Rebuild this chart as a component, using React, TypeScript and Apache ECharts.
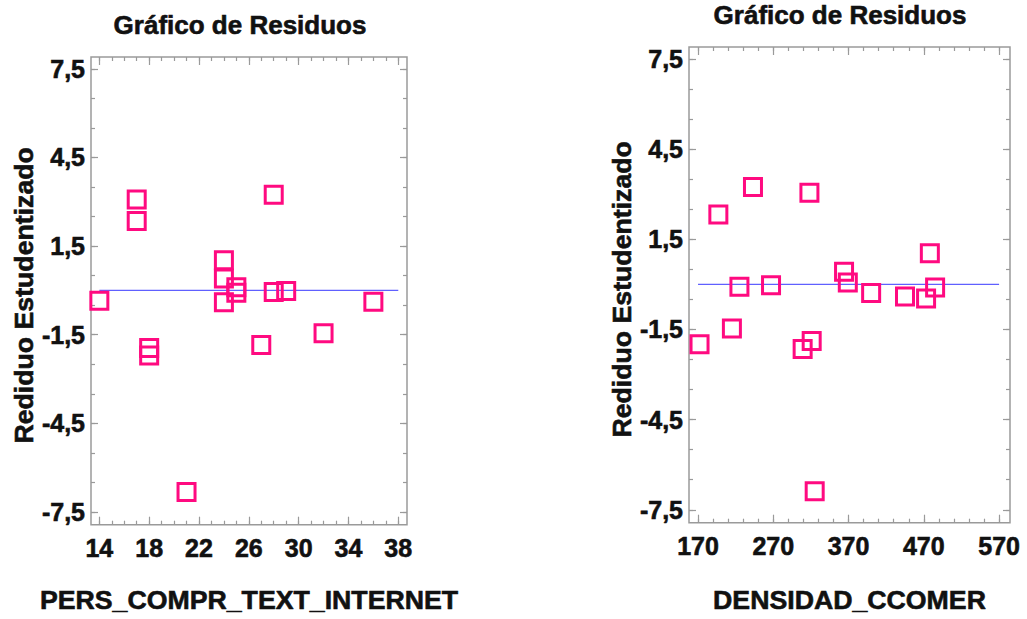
import { useEffect, useRef } from "react";
import * as echarts from "echarts";

// Texts
const TITLE = "Gráfico de Residuos";
const Y_NAME = "Rediduo Estudentizado";
const PERS_NAME = "PERS_COMPR_TEXT_INTERNET";
const DENS_NAME = "DENSIDAD_CCOMER";

// Left panel: residuals vs PERS_COMPR_TEXT_INTERNET
const persX = [14, 17, 17, 28, 24, 24, 24, 25, 25, 28, 29, 36, 18, 18, 27, 32, 21];
const persResid = [-0.35, 3.08, 2.35, 3.24, 1.02, 0.4, -0.4, 0.11, -0.08, -0.05, -0.02, -0.38, -1.95, -2.2, -1.85, -1.45, -6.82];

// Right panel: residuals vs DENSIDAD_CCOMER
const densX = [197, 243, 318, 225, 267, 364, 369, 400, 445, 473, 478, 485, 172, 215, 309, 321, 325];
const densResid = [2.33, 3.24, 3.05, -0.08, -0.03, 0.42, 0.06, -0.29, -0.4, -0.47, 1.04, -0.1, -1.99, -1.47, -2.15, -1.88, -6.88];

// Tick labels
const persXTicks = [14, 18, 22, 26, 30, 34, 38];
const densXTicks = [170, 270, 370, 470, 570];
const residTicks = [-7.5, -4.5, -1.5, 1.5, 4.5, 7.5];

const FONT = '"Liberation Sans", Arial, sans-serif';
const INK = "#111111";
const FRAME = "#9a9a9a";
const MARK = "#ff0a80";
const ZERO = "#6060ff";

// evenly spaced tick marks between two values
function steps(from: number, to: number, step: number): number[] {
  const out: number[] = [];
  for (let v = from; v <= to + 1e-9; v += step) out.push(Math.round(v * 100) / 100);
  return out;
}

type Panel = {
  grid: { left: number; top: number; width: number; height: number };
  xMin: number;
  xMax: number;
  yMin: number;
  yMax: number;
  xTicks: number[];
  xMinor: number[];
  xName: string;
  xNameGap: number;
  xLabelMargin: number;
  title: { x: number; y: number };
  xs: number[];
  ys: number[];
};

const panels: Panel[] = [
  {
    grid: { left: 91, top: 57, width: 316, height: 471 },
    xMin: 13.33,
    xMax: 38.7,
    yMin: -7.93,
    yMax: 7.9,
    xTicks: persXTicks,
    xMinor: steps(14, 38, 1),
    xName: PERS_NAME,
    xNameGap: 62,
    xLabelMargin: 11,
    title: { x: 240, y: 25 },
    xs: persX,
    ys: persResid,
  },
  {
    grid: { left: 689, top: 47, width: 321, height: 477 },
    xMin: 158,
    xMax: 584.5,
    yMin: -7.93,
    yMax: 7.9,
    xTicks: densXTicks,
    xMinor: steps(170, 570, 20),
    xName: DENS_NAME,
    xNameGap: 64,
    xLabelMargin: 11,
    title: { x: 840, y: 15 },
    xs: densX,
    ys: densResid,
  },
];

const residMinor = steps(-7.5, 7.5, 1);

function buildOption() {
  const grids: any[] = [];
  const xAxes: any[] = [];
  const yAxes: any[] = [];
  const series: any[] = [];
  const graphics: any[] = [];

  const heavy = { textBorderColor: INK, textBorderWidth: 0.6 };
  const labelStyle = { fontFamily: FONT, fontWeight: "bold", fontSize: 25, color: INK, ...heavy };
  const nameStyle = { fontFamily: FONT, fontWeight: "bold", fontSize: 26.7, color: INK, ...heavy };

  panels.forEach((p, gi) => {
    grids.push({
      ...p.grid,
      show: true,
      borderColor: FRAME,
      borderWidth: 1.5,
      backgroundColor: "transparent",
      containLabel: false,
    });

    const noLine = { show: false, onZero: false };
    const xBase = { gridIndex: gi, type: "value", min: p.xMin, max: p.xMax, splitLine: { show: false }, axisLine: noLine };
    const yBase = { gridIndex: gi, type: "value", min: p.yMin, max: p.yMax, splitLine: { show: false }, axisLine: noLine };
    const tick = (values: number[], length: number) => ({
      show: true,
      inside: true,
      length,
      customValues: values,
      lineStyle: { color: FRAME, width: 1.2 },
    });

    // bottom: labelled majors, then minors; top: mirrored ticks
    xAxes.push({
      ...xBase,
      position: "bottom",
      axisTick: tick(p.xTicks, 8),
      axisLabel: { ...labelStyle, margin: p.xLabelMargin, customValues: p.xTicks, formatter: (v: number) => String(v) },
      name: p.xName,
      nameLocation: "middle",
      nameGap: p.xNameGap,
      nameTextStyle: nameStyle,
    });
    xAxes.push({ ...xBase, position: "bottom", axisTick: tick(p.xMinor, 4), axisLabel: { show: false } });
    xAxes.push({ ...xBase, position: "top", axisTick: tick(p.xTicks, 8), axisLabel: { show: false } });
    xAxes.push({ ...xBase, position: "top", axisTick: tick(p.xMinor, 4), axisLabel: { show: false } });

    yAxes.push({
      ...yBase,
      position: "left",
      axisTick: tick(residTicks, 7),
      axisLabel: {
        ...labelStyle,
        margin: 6,
        customValues: residTicks,
        formatter: (v: number) => v.toFixed(1).replace(".", ","),
      },
      name: Y_NAME,
      nameLocation: "middle",
      nameGap: 53,
      nameRotate: 90,
      nameTextStyle: { ...nameStyle, padding: [0, 9, 0, 0] },
    });
    yAxes.push({ ...yBase, position: "left", axisTick: tick(residMinor, 4), axisLabel: { show: false } });
    yAxes.push({ ...yBase, position: "right", axisTick: tick(residTicks, 7), axisLabel: { show: false } });
    yAxes.push({ ...yBase, position: "right", axisTick: tick(residMinor, 4), axisLabel: { show: false } });

    const xi = gi * 4;
    const yi = gi * 4;

    // zero reference line across the labelled tick range
    series.push({
      type: "line",
      xAxisIndex: xi,
      yAxisIndex: yi,
      data: [
        [p.xTicks[0], 0],
        [p.xTicks[p.xTicks.length - 1], 0],
      ],
      symbol: "none",
      lineStyle: { color: ZERO, width: 1.2 },
      silent: true,
      z: 1,
    });

    series.push({
      type: "scatter",
      xAxisIndex: xi,
      yAxisIndex: yi,
      data: p.xs.map((x, i) => [x, p.ys[i]]),
      symbol: "rect",
      symbolSize: 17,
      itemStyle: { color: "rgba(255,255,255,0)", borderColor: MARK, borderWidth: 3, opacity: 1 },
      z: 3,
    });

    graphics.push({
      type: "text",
      x: p.title.x,
      y: p.title.y,
      style: {
        text: TITLE,
        fontFamily: FONT,
        fontWeight: "bold",
        fontSize: 26,
        fill: INK,
        stroke: INK,
        lineWidth: 0.6,
        textAlign: "center",
        textVerticalAlign: "middle",
      },
    });
  });

  return {
    animation: false,
    backgroundColor: "#ffffff",
    grid: grids,
    xAxis: xAxes,
    yAxis: yAxes,
    series,
    graphic: graphics,
  };
}

export default function App() {
  const ref = useRef<HTMLDivElement>(null);

  useEffect(() => {
    if (!ref.current) return;
    const chart = echarts.init(ref.current, undefined, { renderer: "svg" });
    chart.setOption(buildOption());
    return () => chart.dispose();
  }, []);

  return (
    <div
      ref={ref}
      style={{ position: "fixed", left: 0, top: 0, width: 1027, height: 619, background: "#fff" }}
    />
  );
}
